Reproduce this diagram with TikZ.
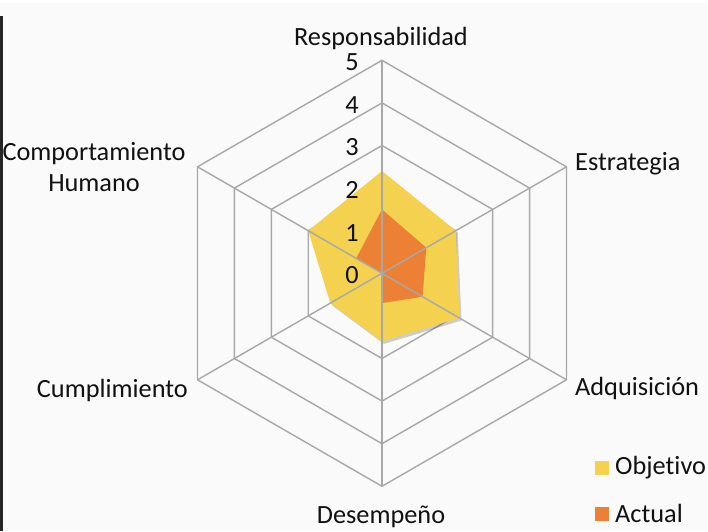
\documentclass[tikz,border=0pt]{standalone}
\usepackage{fontspec}
\setmainfont{Carlito}[Ligatures=NoCommon]
\definecolor{bgc}{HTML}{FAFAFA}
\definecolor{gridc}{HTML}{A8A8A8}
\definecolor{objc}{HTML}{F4D14F}
\definecolor{actc}{HTML}{EC8035}
\definecolor{txtc}{HTML}{111111}
\begin{document}
\begin{tikzpicture}[x=1pt,y=1pt,
  lbl/.style={inner sep=0pt, text=txtc, font=\fontsize{26.3}{31}\selectfont, text height=1.5ex, text depth=0.3ex},
  numlbl/.style={lbl},
  gridline/.style={draw=gridc, line width=1.4pt, line join=miter},
  swatch/.style={minimum size=14pt, inner sep=0pt}]
\useasboundingbox (0,0) rectangle (708,531);
\fill[bgc] (0,0) rectangle (708,531);
\fill[white] (0,528) rectangle (708,531);
\fill[black!85] (0,0) rectangle (3,515);
\def\u{42.6}
\begin{scope}[shift={(382,257.7)}]
  \coordinate (c) at (0,0);
  % rings
  \foreach \k in {1,...,5}{
    \draw[gridline] (90:\k*\u) -- (30:\k*\u) -- (-30:\k*\u) -- (-90:\k*\u) -- (210:\k*\u) -- (150:\k*\u) -- cycle;
  }
  % shadow
  \fill[black, opacity=0.18] ([shift={(2,-2.5)}]90:2.4*\u) -- ([shift={(2,-2.5)}]30:2.0*\u) -- ([shift={(2,-2.5)}]-30:2.1*\u) -- ([shift={(2,-2.5)}]-90:1.6*\u) -- ([shift={(2,-2.5)}]210:1.4*\u) -- ([shift={(2,-2.5)}]150:2.0*\u) -- cycle;
  % Objetivo
  \fill[objc] (90:2.4*\u) -- (30:2.0*\u) -- (-30:2.1*\u) -- (-90:1.6*\u) -- (210:1.4*\u) -- (150:2.0*\u) -- cycle;
  % Actual
  \fill[actc] (90:1.5*\u) -- (30:1.2*\u) -- (-30:1.1*\u) -- (-90:0.7*\u) -- (c) -- (150:0.7*\u) -- cycle;
  % spokes
  \foreach \a in {90,30,-30,-90,210,150}{
    \coordinate (s\a) at (\a:5*\u);
    \draw[gridline] (c) -- (s\a);
  }
  % scale numbers
  \foreach \k in {0,...,5}{
    \node[numlbl] (n\k) at (-30,\k*\u-7.6) {\k};
  }
\end{scope}
\node[lbl] (resp) at (381,488) {Responsabilidad};
\node[lbl, anchor=west] (estr) at (575,363) {Estrategia};
\node[lbl, anchor=west] (adq) at (575,138) {Adquisición};
\node[lbl] (des) at (381,10) {Desempeño};
\node[lbl, anchor=east] (cump) at (188,136) {Cumplimiento};
\node[lbl, align=center, text height=, text depth=] (comp) at (94,364) {Comportamiento\\Humano};
\node[swatch, fill=objc] (sobj) at (602,63) {};
\node[lbl, anchor=west] (lobj) at (615,59) {Objetivo};
\node[swatch, fill=actc] (sact) at (602,17) {};
\node[lbl, anchor=west] (lact) at (615,11) {Actual};
\end{tikzpicture}
\end{document}
